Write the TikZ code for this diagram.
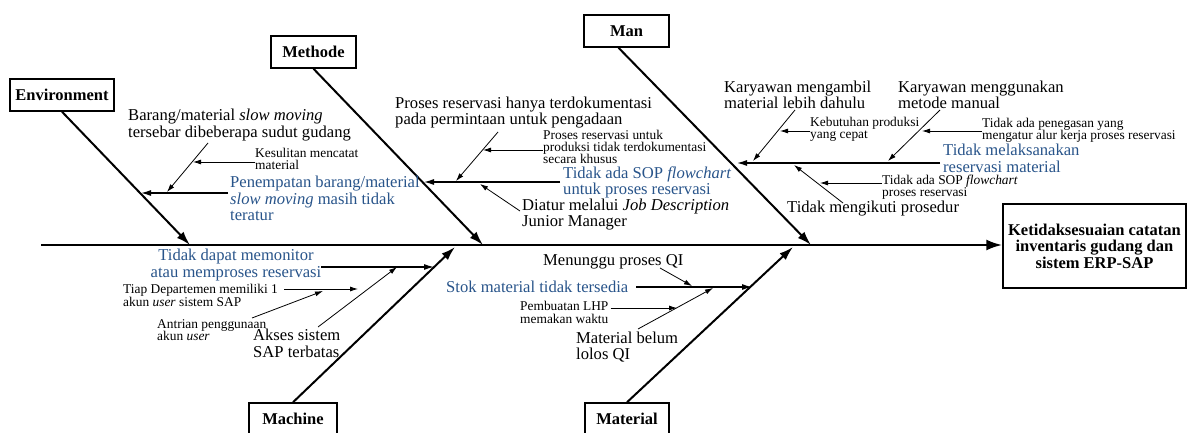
\documentclass[tikz,border=0pt]{standalone}
\usepackage{fontspec}
\setmainfont{Liberation Serif}
\usetikzlibrary{arrows.meta}
\definecolor{birutua}{RGB}{40,84,138}
\begin{document}
\begin{tikzpicture}[x=1pt, y=-1pt,
    kotak/.style={draw, line width=1.5pt, inner sep=0pt, minimum height=32, font=\fontsize{16.5}{16.5}\selectfont\bfseries},
    teks/.style={font=\fontsize{16.6}{16.5}\selectfont, align=left, anchor=west, inner sep=0pt},
    kecil/.style={font=\fontsize{13.4}{12.3}\selectfont, align=left, anchor=west, inner sep=0pt},
    biru/.style={teks, text=birutua},
    tulang/.style={line width=2pt, -{Latex[length=14pt,width=9pt]}},
    cabang/.style={line width=1.2pt, -{Latex[length=10pt,width=6pt]}},
    panah/.style={line width=0.8pt, -{Latex[length=8pt,width=5pt]}}]
    \useasboundingbox (0,0) rectangle (1189,433);

    % 类别框
    \node[kotak, minimum width=104] (env) at (62,95) {Environment};
    \node[kotak, minimum width=85] (metode) at (313.5,52) {Methode};
    \node[kotak, minimum width=85] (man) at (626.5,31) {Man};
    \node[kotak, minimum width=88] (mesin) at (293,419) {Machine};
    \node[kotak, minimum width=84] (bahan) at (627,419) {Material};
    \node[kotak, minimum width=183, minimum height=84, align=center] (akibat) at (1094.5,246)
        {Ketidaksesuaian catatan\\inventaris gudang dan\\sistem ERP-SAP};

    % 主干与骨
    \coordinate (ekor) at (41,245);
    \coordinate (tE) at (190,245);
    \coordinate (tMe) at (483,245);
    \coordinate (tMa) at (811,245);
    \coordinate (tMc) at (455,247);
    \coordinate (tMt) at (793,247);
    \draw[line width=2.4pt, -{Latex[length=16pt,width=11pt]}] (ekor) -- (akibat.west |- ekor);
    \draw[tulang] (env.south) -- (tE);
    \draw[tulang] (metode.south) -- (tMe);
    \draw[tulang] ([xshift=-8pt]man.south) -- (tMa);
    \draw[tulang] (mesin.north) -- (tMc);
    \draw[tulang] (bahan.north) -- (tMt);

    % Environment
    \node[biru] (penempatan) at (230,198.5) {Penempatan barang/material\\\textit{slow moving} masih tidak\\teratur};
    \node[teks] (barang) at (128,125) {Barang/material \textit{slow moving}\\tersebar dibeberapa sudut gudang};
    \node[kecil] (kesulitan) at (255,159) {Kesulitan mencatat\\material};
    \coordinate (e2) at (141,193);
    \coordinate (e3) at (208,143);
    \coordinate (e4) at (167,192);
    \coordinate (e5) at (193,162);
    \draw[cabang, shorten <=2pt] (penempatan.west |- e2) -- (e2);
    \draw[panah] (e3) -- (e4);
    \draw[panah] (kesulitan.west |- e5) -- (e5);

    % Methode
    \node[teks] (hanya) at (395,112.5) {Proses reservasi hanya terdokumentasi\\pada permintaan untuk pengadaan};
    \node[kecil] (untuk) at (543,147) {Proses reservasi untuk\\produksi tidak terdokumentasi\\secara khusus};
    \node[biru] (sop) at (563,182.5) {Tidak ada SOP \textit{flowchart}\\untuk proses reservasi};
    \node[teks] (diatur) at (522,214.5) {Diatur melalui \textit{Job Description}\\Junior Manager};
    \coordinate (m2) at (424,182);
    \coordinate (m3) at (498,132);
    \coordinate (m4) at (456,181);
    \coordinate (m5) at (483,150);
    \coordinate (m6) at (520,211);
    \coordinate (m7) at (480,184);
    \draw[cabang, shorten <=3pt] (sop.west |- m2) -- (m2);
    \draw[panah] (m3) -- (m4);
    \draw[panah] (untuk.west |- m5) -- (m5);
    \draw[panah] (m6) -- (m7);

    % Man
    \node[teks] (ambil) at (724,95) {Karyawan mengambil\\material lebih dahulu};
    \node[kecil] (butuh) at (810,129) {Kebutuhan produksi\\yang cepat};
    \node[teks] (manual) at (898,95) {Karyawan menggunakan\\metode manual};
    \node[kecil] (tegas) at (982,130) {Tidak ada penegasan yang\\mengatur alur kerja proses reservasi};
    \node[biru] (laksana) at (943,158.5) {Tidak melaksanakan\\reservasi material};
    \node[teks] (ikut) at (787,208.5) {Tidak mengikuti prosedur};
    \node[kecil] (sopman) at (882,187) {Tidak ada SOP \textit{flowchart}\\proses reservasi};
    \coordinate (a2) at (737,163);
    \coordinate (a3) at (795,110);
    \coordinate (a4) at (753,161);
    \coordinate (a5) at (780,131);
    \coordinate (a6) at (940,110);
    \coordinate (a7) at (888,161);
    \coordinate (a8) at (922,131);
    \coordinate (a9) at (843,203);
    \coordinate (a10) at (794,165);
    \coordinate (a11) at (820,183);
    \draw[cabang, shorten <=3pt] (laksana.west |- a2) -- (a2);
    \draw[panah] (a3) -- (a4);
    \draw[panah] (butuh.west |- a5) -- (a5);
    \draw[panah] (a6) -- (a7);
    \draw[panah] (tegas.west |- a8) -- (a8);
    \draw[panah] (a9) -- (a10);
    \draw[panah] (sopman.west |- a11) -- (a11);

    % Machine
    \node[biru, align=center, anchor=center] (monitor) at (236,265) {Tidak dapat memonitor\\atau memproses reservasi};
    \node[kecil] (tiap) at (123,295.5) {Tiap Departemen memiliki 1\\akun \textit{user} sistem SAP};
    \node[kecil] (antrian) at (157,330) {Antrian penggunaan\\akun \textit{user}};
    \node[teks] (akses) at (253,343.5) {Akses sistem\\SAP terbatas};
    \coordinate (c2) at (434,267);
    \coordinate (c4) at (358,289);
    \coordinate (c5) at (252,318);
    \coordinate (c6) at (323,291);
    \coordinate (c7) at (318,327);
    \coordinate (c8) at (397,267);
    \draw[cabang] (monitor.east |- c2) -- (c2);
    \draw[panah, shorten <=6pt] (tiap.east |- c4) -- (c4);
    \draw[panah] (c5) -- (c6);
    \draw[panah] (c7) -- (c8);

    % Material
    \node[biru] (stok) at (446,287) {Stok material tidak tersedia};
    \node[teks] (tunggu) at (543,262) {Menunggu proses QI};
    \node[kecil] (lhp) at (520,312.5) {Pembuatan LHP\\memakan waktu};
    \node[teks] (belum) at (576,347) {Material belum\\lolos QI};
    \coordinate (t2) at (752,287);
    \coordinate (t3) at (660,268);
    \coordinate (t4) at (692,286);
    \coordinate (t5) at (638,329);
    \coordinate (t6) at (713,288);
    \coordinate (t7) at (677,308);
    \draw[cabang, shorten <=8pt] (stok.east |- t2) -- (t2);
    \draw[panah] (t3) -- (t4);
    \draw[panah] (t5) -- (t6);
    \draw[panah, shorten <=2pt] (lhp.east |- t7) -- (t7);
\end{tikzpicture}
\end{document}
